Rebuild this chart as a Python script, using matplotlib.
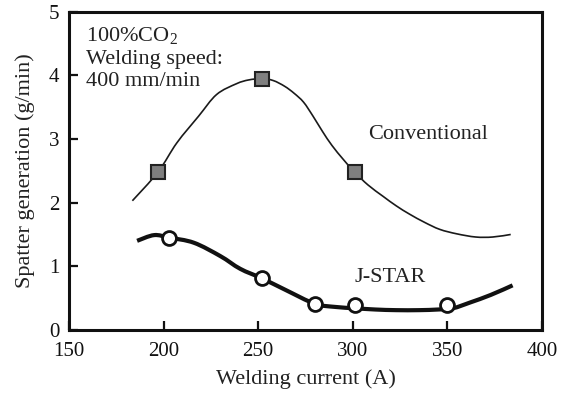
import matplotlib
matplotlib.use("Agg")
import matplotlib.pyplot as plt
from matplotlib.path import Path
from matplotlib.patches import PathPatch

plt.rcParams['font.family'] = ['Liberation Serif', 'DejaVu Serif']
plt.rcParams['mathtext.fontset'] = 'custom'
plt.rcParams['mathtext.rm'] = 'Liberation Serif'

# measured points (markers)
conv_current = [197, 252, 301]
conv_spatter = [2.48, 3.95, 2.48]
jstar_current = [203, 252, 280, 301, 350]
jstar_spatter = [1.44, 0.81, 0.40, 0.39, 0.39]

# trend curves
conv_curve_x = [183.5, 197, 207, 218.5, 228, 238.5, 245, 252, 258, 264, 269, 274, 279,
                284, 289, 295, 301, 308, 316, 323, 330, 338, 346, 355, 365, 374, 383.5]
conv_curve_y = [2.03, 2.48, 2.94, 3.36, 3.70, 3.87, 3.93, 3.95, 3.92, 3.83, 3.72, 3.58, 3.36,
                3.12, 2.90, 2.68, 2.48, 2.28, 2.10, 1.95, 1.82, 1.69, 1.58, 1.51, 1.46, 1.46, 1.50]
jstar_curve_x = [186, 195, 203, 216, 230, 240.5, 252, 265, 280, 291, 301, 312, 323, 335,
                 345, 353, 362, 373, 384.5]
jstar_curve_y = [1.40, 1.49, 1.45, 1.37, 1.16, 0.96, 0.81, 0.62, 0.41, 0.36, 0.34, 0.32, 0.31, 0.31,
                 0.32, 0.34, 0.43, 0.55, 0.70]


def smooth_curve(xs, ys):
    """Catmull-Rom style bezier path through the given points."""
    pts = list(zip(xs, ys))
    n = len(pts)
    verts = [pts[0]]
    codes = [Path.MOVETO]
    for i in range(n - 1):
        p0 = pts[i - 1] if i > 0 else pts[i]
        p1 = pts[i]
        p2 = pts[i + 1]
        p3 = pts[i + 2] if i + 2 < n else p2
        c1 = (p1[0] + (p2[0] - p0[0]) / 6, p1[1] + (p2[1] - p0[1]) / 6)
        c2 = (p2[0] - (p3[0] - p1[0]) / 6, p2[1] - (p3[1] - p1[1]) / 6)
        verts += [c1, c2, p2]
        codes += [Path.CURVE4] * 3
    return Path(verts, codes)


fig = plt.figure(figsize=(5.61, 3.96), dpi=100)
ax = fig.add_axes([0.123, 0.167, 0.843, 0.803])

ax.add_patch(PathPatch(smooth_curve(conv_curve_x, conv_curve_y), facecolor='none',
                       edgecolor='#1a1a1a', lw=1.2, zorder=2))
ax.add_patch(PathPatch(smooth_curve(jstar_curve_x, jstar_curve_y), facecolor='none',
                       edgecolor='#111111', lw=3.0, capstyle='butt', zorder=2))
ax.plot(conv_current, conv_spatter, linestyle='none', marker='s', markersize=10,
        markerfacecolor='#7f7f7f', markeredgecolor='#222222', markeredgewidth=1.5, zorder=3)
ax.plot(jstar_current, jstar_spatter, linestyle='none', marker='o', markersize=10,
        markerfacecolor='white', markeredgecolor='#111111', markeredgewidth=2.0, zorder=3)

ax.set_xlim(150, 400)
ax.set_ylim(0, 5)
ax.set_xticks([150, 200, 250, 300, 350, 400])
ax.set_yticks([0, 1, 2, 3, 4, 5])
ax.tick_params(direction='in', length=6.5, width=1.6, labelsize=15, colors='#111111')
ax.tick_params(axis='x', pad=9)
ax.tick_params(axis='y', pad=7)
for side in ax.spines.values():
    side.set_linewidth(2.2)
    side.set_color('#111111')

ax.set_xlabel('Welding current (A)', fontsize=16, color='#222222', labelpad=6)
ax.set_ylabel('Spatter generation (g/min)', fontsize=16, color='#222222', labelpad=10)

ax.text(159, 4.61, '100%CO$_2$', fontsize=16, color='#222222', va='center')
ax.text(159, 4.25, 'Welding speed:', fontsize=16, color='#222222', va='center')
ax.text(159, 3.90, '400 mm/min', fontsize=16, color='#222222', va='center')
ax.text(308, 3.07, 'Conventional', fontsize=16, color='#222222', va='center')
ax.text(301, 0.83, 'J-STAR', fontsize=16, color='#222222', va='center')

fig.savefig('out.png', dpi=100)
